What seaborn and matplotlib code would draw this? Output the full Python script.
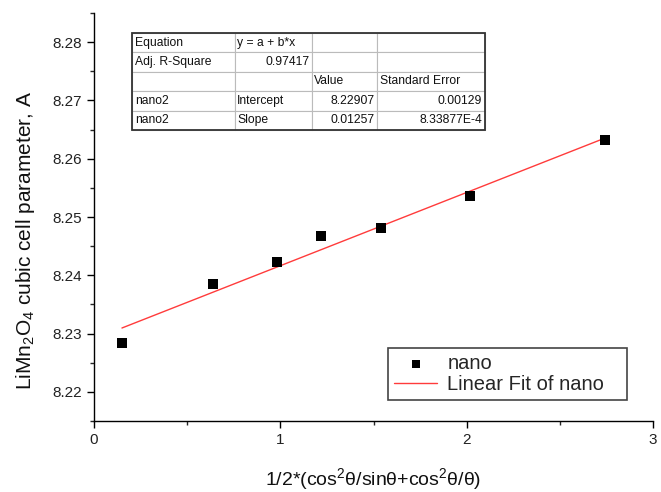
import numpy as np
import pandas as pd
import matplotlib
matplotlib.use("Agg")
import matplotlib.pyplot as plt
import seaborn as sns
from matplotlib.ticker import MultipleLocator
from matplotlib.patches import Rectangle

# ---- data ----
x_vals = [0.15, 0.64, 0.98, 1.22, 1.54, 2.02, 2.74]
y_vals = [8.2284, 8.2385, 8.2422, 8.2467, 8.2481, 8.2536, 8.2632]
intercept = 8.22907
slope = 0.01257
table_rows = [
    ["Equation", "y = a + b*x", "", ""],
    ["Adj. R-Square", "0.97417", "", ""],
    ["", "", "Value", "Standard Error"],
    ["nano2", "Intercept", "8.22907", "0.00129"],
    ["nano2", "Slope", "0.01257", "8.33877E-4"],
]
x_ticks = [0, 1, 2, 3]
y_ticks = [8.22, 8.23, 8.24, 8.25, 8.26, 8.27, 8.28]

sns.set_style("ticks")
plt.rcParams['font.family'] = ['Liberation Sans', 'DejaVu Sans']
plt.rcParams['mathtext.default'] = 'regular'

fig = plt.figure(figsize=(6.61, 4.92), dpi=100)
AX_L, AX_R, AX_T, AX_B = 94, 653, 13, 421
AW, AH = AX_R - AX_L, AX_B - AX_T
ax = fig.add_axes([AX_L/661, 1-AX_B/492, AW/661, AH/492])

df = pd.DataFrame({"x": x_vals, "y": y_vals})
fit_x = np.array([min(x_vals), max(x_vals)])
fit_df = pd.DataFrame({"x": fit_x, "y": intercept + slope * fit_x})

sns.lineplot(data=fit_df, x="x", y="y", ax=ax, color="#ff3b3b", linewidth=1.0,
             label="Linear Fit of nano", zorder=2)
sns.scatterplot(data=df, x="x", y="y", ax=ax, marker="s", s=50, color="black",
                edgecolor="black", linewidth=0, label="nano", zorder=3)

ax.set_xlim(0, 3)
ax.set_ylim(8.215, 8.285)
ax.set_xticks(x_ticks)
ax.set_yticks(y_ticks)
ax.set_yticklabels([f"{v:.2f}" for v in y_ticks])
ax.xaxis.set_minor_locator(MultipleLocator(0.5))
ax.yaxis.set_minor_locator(MultipleLocator(0.005))
ax.tick_params(axis="both", which="major", direction="out", length=5, width=1,
               labelsize=11, colors="black", labelcolor="#222222")
ax.tick_params(axis="both", which="minor", direction="out", length=3, width=1)
for s in ["top", "right"]:
    ax.spines[s].set_visible(False)
for s in ["left", "bottom"]:
    ax.spines[s].set_linewidth(1)
    ax.spines[s].set_color("black")

ax.set_xlabel(r"1/2*(cos$^2$θ/sinθ+cos$^2$θ/θ)", fontsize=14, labelpad=14, color="#111111")
ax.set_ylabel(r"LiMn$_2$O$_4$ cubic cell parameter, A", fontsize=15, color="#111111")
ax.yaxis.set_label_coords((37 - AX_L)/AW, (AX_B - 240)/AH)

# legend
handles, labels = ax.get_legend_handles_labels()
order = [labels.index("nano"), labels.index("Linear Fit of nano")]
lx0, lx1, ly0, ly1 = 388, 627, 400, 347
leg = ax.legend([handles[i] for i in order], [labels[i] for i in order],
                loc="lower left",
                bbox_to_anchor=((lx0-AX_L)/AW, (AX_B-ly0)/AH, (lx1-lx0)/AW, (ly0-ly1)/AH),
                mode="expand", borderaxespad=0, fontsize=14.5,
                frameon=True, fancybox=False, framealpha=1, edgecolor="#444444",
                handlelength=2.15, borderpad=0.3, labelspacing=0.1, handletextpad=0.5,
                markerscale=0.8)
leg.get_frame().set_linewidth(1.2)

# inset table
tx0, tx1 = (132-AX_L)/AW, (485-AX_L)/AW
ty1, ty0 = (AX_B-33)/AH, (AX_B-130)/AH
col_w = [103, 77, 65, 108]
tot = sum(col_w)
tbl = ax.table(cellText=table_rows, colWidths=[c/tot for c in col_w],
               bbox=[tx0, ty0, tx1-tx0, ty1-ty0], cellLoc="left", zorder=5)
tbl.auto_set_font_size(False)
tbl.set_fontsize(8.7)
right_cells = {(1, 1), (3, 2), (3, 3), (4, 2), (4, 3)}
for (r, c), cell in tbl.get_celld().items():
    cell.set_edgecolor("#bbbbbb")
    cell.set_linewidth(0.8)
    cell.PAD = 0.03
    cell.get_text().set_color("#111111")
    if (r, c) in right_cells:
        cell._loc = "right"
        cell.get_text().set_ha("right")
ax.add_patch(Rectangle((tx0, ty0), tx1-tx0, ty1-ty0, transform=ax.transAxes,
                       fill=False, edgecolor="#333333", linewidth=1.3, zorder=6,
                       clip_on=False))

fig.savefig("out.png", dpi=100)
